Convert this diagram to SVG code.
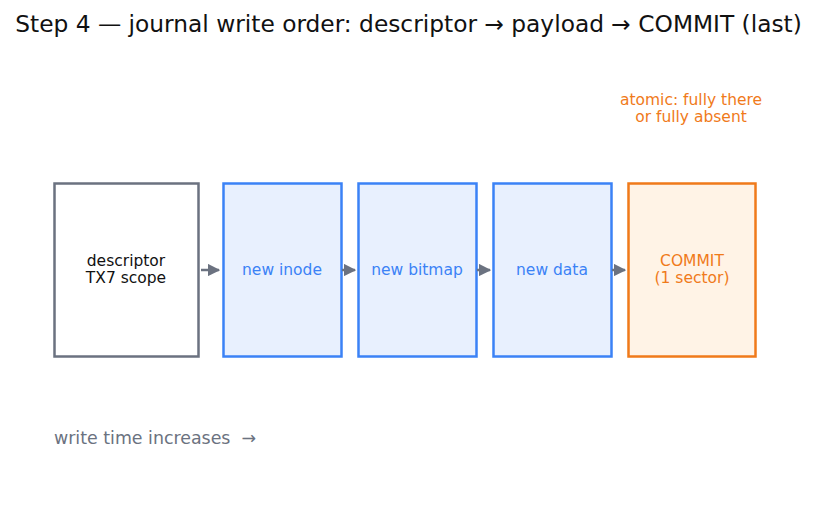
<svg xmlns="http://www.w3.org/2000/svg" width="817" height="510" viewBox="0 0 817 510">
<style>
text{font-family:"DejaVu Sans","Liberation Sans",sans-serif}
.t{font-size:23.3px;fill:#111}
.lbl{font-size:15.5px;text-anchor:middle}
.g{fill:#111}
.b{fill:#3b82f6}
.o{fill:#f07a1a}
.box{stroke-width:2.5}
.conn{stroke:#6b7280;stroke-width:2.5;fill:none}
</style>
<defs>
<marker id="ah" viewBox="0 0 10 10" refX="9" refY="5" markerWidth="5" markerHeight="5" markerUnits="strokeWidth" orient="auto">
<path d="M0,0 L10,5 L0,10 z" fill="#6b7280"/>
</marker>
</defs>
<rect width="817" height="510" fill="#fff"/>
<text class="t" x="408.5" y="32" text-anchor="middle">Step 4 — journal write order: descriptor → payload → COMMIT (last)</text>
<g id="descriptor">
<rect class="box" x="54.5" y="183.5" width="144" height="173" fill="#fff" stroke="#6b7280"/>
<text class="lbl g" x="126" y="266">descriptor</text>
<text class="lbl g" x="126" y="283">TX7 scope</text>
</g>
<g id="inode">
<rect class="box" x="223.5" y="183.5" width="118" height="173" fill="#e8f0fe" stroke="#3b82f6"/>
<text class="lbl b" x="282" y="275">new inode</text>
</g>
<g id="bitmap">
<rect class="box" x="358.5" y="183.5" width="118" height="173" fill="#e8f0fe" stroke="#3b82f6"/>
<text class="lbl b" x="417" y="275">new bitmap</text>
</g>
<g id="data">
<rect class="box" x="493.5" y="183.5" width="118" height="173" fill="#e8f0fe" stroke="#3b82f6"/>
<text class="lbl b" x="552" y="275">new data</text>
</g>
<g id="commit">
<rect class="box" x="628.5" y="183.5" width="127" height="173" fill="#fff3e6" stroke="#f07a1a"/>
<text class="lbl o" x="692" y="266">COMMIT</text>
<text class="lbl o" x="692" y="283">(1 sector)</text>
</g>
<g id="connectors">
<line class="conn" x1="201" y1="270" x2="219" y2="270" marker-end="url(#ah)"/>
<line class="conn" x1="342" y1="270" x2="355" y2="270" marker-end="url(#ah)"/>
<line class="conn" x1="477" y1="270" x2="490" y2="270" marker-end="url(#ah)"/>
<line class="conn" x1="612" y1="270" x2="625" y2="270" marker-end="url(#ah)"/>
</g>
<g id="note">
<text class="lbl o" x="691" y="105">atomic: fully there</text>
<text class="lbl o" x="691" y="122">or fully absent</text>
</g>
<text x="54" y="444" font-size="17.4" fill="#6b7280" style="white-space:pre">write time increases  →</text>
</svg>
